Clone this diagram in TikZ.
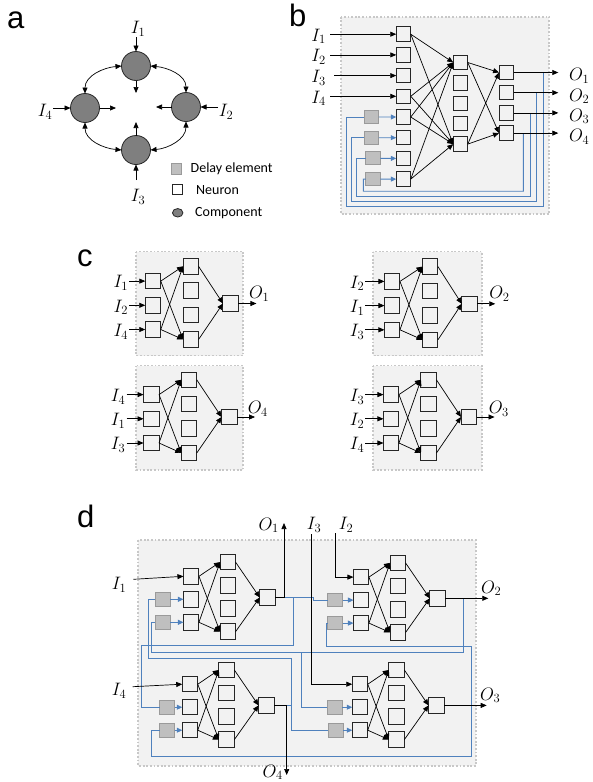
\RequirePackage{fix-cm}
\documentclass[tikz,border=0pt]{standalone}
\usepackage{fontspec}
\setsansfont{Liberation Sans}
\newfontfamily\legfont{Carlito}
\usetikzlibrary{arrows.meta,shapes.geometric}
\definecolor{regfill}{HTML}{F2F2F2}
\definecolor{regdraw}{HTML}{C8C8C8}
\definecolor{fb}{HTML}{4F81BD}
\definecolor{dlfill}{HTML}{BFBFBF}
\definecolor{dldraw}{HTML}{9A9A9A}
\definecolor{compfill}{HTML}{7F7F7F}
\tikzset{
 neuron/.style={draw=black!85, line width=1pt, minimum width=15.5pt, minimum height=15.5pt, inner sep=0pt, outer sep=0pt},
 bneuron/.style={neuron, minimum width=14.5pt, minimum height=14.5pt},
 delaybox/.style={draw=dldraw, fill=dlfill, line width=0.9pt, minimum width=15pt, minimum height=13.5pt, inner sep=0pt, outer sep=0pt},
 comp/.style={circle, draw=black!85, fill=compfill, line width=0.8pt, minimum size=29pt, inner sep=0pt, outer sep=0pt},
 region/.style={fill=regfill, draw=regdraw, line width=1.8pt, dash pattern=on 1.8pt off 1.8pt},
 arr/.style={-{Triangle[length=6pt,width=5pt]}, line width=0.7pt, black},
 dbl/.style={{Triangle[length=6pt,width=5pt]}-{Triangle[length=6pt,width=5pt]}, line width=0.7pt, black},
 fbl/.style={fb, line width=0.9pt},
 fbarr/.style={fbl, -{Triangle[length=5.5pt,width=5pt]}},
 lab/.style={font=\fontsize{18}{21}\selectfont, inner sep=0pt},
 panel/.style={font=\sffamily\fontsize{31}{34}\selectfont, inner sep=0pt, anchor=base west},
 legtext/.style={font=\legfont\fontsize{14}{16}\selectfont, inner sep=0pt, anchor=west},
}
% #1 prefix #2 x #3 cy #4 s #5 hs #6 dx1 #7 dx2
\newcommand{\mknet}[7]{%
 \node[neuron] (#1i1) at (#2,#3-#4) {};
 \node[neuron] (#1i2) at (#2,#3) {};
 \node[neuron] (#1i3) at (#2,#3+#4) {};
 \node[neuron] (#1h1) at (#2+#6,#3-2.4-1.5*#5) {};
 \node[neuron] (#1h2) at (#2+#6,#3-2.4-0.5*#5) {};
 \node[neuron] (#1h3) at (#2+#6,#3-2.4+0.5*#5) {};
 \node[neuron] (#1h4) at (#2+#6,#3-2.4+1.5*#5) {};
 \node[neuron] (#1o) at (#2+#7,#3-1.8) {};
 \draw[arr] (#1i1.east) -- (#1h1.west);
 \draw[arr] (#1i1.east) -- (#1h4.west);
 \draw[arr] (#1i3.east) -- (#1h1.west);
 \draw[arr] (#1i3.east) -- (#1h4.west);
 \draw[arr] (#1h1.east) -- (#1o.west);
 \draw[arr] (#1h4.east) -- (#1o.west);
}
\begin{document}
\begin{tikzpicture}[x=1pt,y=-1pt]
\useasboundingbox (0,0) rectangle (592,782);
% panel letters
\node[panel] (pa) at (7,28) {a};
\node[panel] (pb) at (289,26) {b};
\node[panel] (pc) at (77,266) {c};
\node[panel] (pd) at (77,527) {d};

% regions
\path[region] (341,16.7) rectangle (549.3,214);
\path[region] (136,251.5) rectangle (243.3,355.5);
\path[region] (373.3,251.5) rectangle (481.7,355.5);
\path[region] (136,365.5) rectangle (243.3,470);
\path[region] (373.3,365.5) rectangle (481.7,470);
\path[region] (138.3,540) rectangle (475.7,766);

% ---------------- panel a
\node[comp] (aT) at (136,66) {};
\node[comp] (aL) at (85,108) {};
\node[comp] (aR) at (186,107) {};
\node[comp] (aB) at (136,150) {};
\draw[dbl] (aT.west) to[out=185,in=90] (aL.north);
\draw[dbl] (aT.east) to[out=-5,in=90] (aR.north);
\draw[dbl] (aB.west) to[out=175,in=-90] (aL.south);
\draw[dbl] (aB.east) to[out=5,in=-90] (aR.south);
\coordinate (aTi) at (136,93);
\coordinate (aLi) at (116,108);
\coordinate (aRi) at (156,107);
\coordinate (aBi) at (136,122);
\draw[arr] (aT.south) -- (aTi);
\draw[arr] (aL.east) -- (aLi);
\draw[arr] (aR.west) -- (aRi);
\draw[arr] (aB.north) -- (aBi);
\coordinate (aI1s) at (136,37);
\coordinate (aI4s) at (53,108);
\coordinate (aI2s) at (218,107);
\coordinate (aI3s) at (136,180);
\draw[arr] (aI1s) -- (aT.north);
\draw[arr] (aI4s) -- (aL.west);
\draw[arr] (aI2s) -- (aR.east);
\draw[arr] (aI3s) -- (aB.south);
\node[lab] (aI1) at (138,29) {$I_1$};
\node[lab] (aI4) at (45,112) {$I_4$};
\node[lab] (aI2) at (226,112) {$I_2$};
\node[lab] (aI3) at (138,197) {$I_3$};
% legend
\node[delaybox, minimum width=10pt, minimum height=10.5pt] (lgD) at (176.7,168.7) {};
\node[neuron, minimum width=10pt, minimum height=10.5pt, fill=white] (lgN) at (177.3,189.5) {};
\node[ellipse, draw=black!85, fill=compfill, line width=0.8pt, minimum width=10.5pt, minimum height=8.5pt, inner sep=0pt] (lgC) at (177.7,212.8) {};
\node[legtext] (lgDt) at (190.5,168.5) {Delay element};
\node[legtext] (lgNt) at (196,190) {Neuron};
\node[legtext] (lgCt) at (195,213) {Component};

% ---------------- panel b
\foreach \k in {1,...,8} \node[bneuron] (bi\k) at (403.5,{34.2+(\k-1)*20.7}) {};
\foreach \k in {1,...,5} \node[bneuron] (bh\k) at (460.5,{62.5+(\k-1)*20.4}) {};
\foreach \k in {1,...,4} \node[bneuron] (bo\k) at (506.3,{72.5+(\k-1)*20.2}) {};
\node[delaybox, minimum width=14.5pt, minimum height=13pt] (bd1) at (371.5,117) {};
\node[delaybox, minimum width=14.5pt, minimum height=13pt] (bd2) at (371.5,137.7) {};
\node[delaybox, minimum width=14.5pt, minimum height=13pt] (bd3) at (373,158.4) {};
\node[delaybox, minimum width=14.5pt, minimum height=13pt] (bd4) at (373,179.1) {};
\draw[fbarr] (bd1.east) -- (bi5.west);
\draw[fbarr] (bd2.east) -- (bi6.west);
\draw[fbarr] (bd3.east) -- (bi7.west);
\draw[fbarr] (bd4.east) -- (bi8.west);
\foreach \k/\xv/\yb/\xl in {1/543/206.7/346, 2/536.7/201.7/351, 3/530.3/196.7/356.7, 4/523.3/191.2/363.3} {
 \draw[fbl] (\xv,{72.5+(\k-1)*20.2}) -- (\xv,\yb) -- (\xl,\yb) -- (\xl,{117+(\k-1)*20.7}) -- (bd\k.west);
}
\foreach \a in {1,4,5,8} \foreach \b in {1,5} \draw[arr] (bi\a.east) -- (bh\b.west);
\foreach \a in {1,5} \foreach \b in {1,4} \draw[arr] (bh\a.east) -- (bo\b.west);
\foreach \k in {1,...,4} {
 \coordinate (bOe\k) at (558.3,{72.5+(\k-1)*20.2});
 \draw[arr] (bo\k.east) -- (bOe\k);
 \node[lab,anchor=west] (bO\k) at (569,{76+(\k-1)*20.2}) {$O_\k$};
}
\foreach \k/\xs in {1/330,2/330,3/334,4/330} {
 \coordinate (bIs\k) at (\xs,{34.2+(\k-1)*20.7});
 \draw[arr] (bIs\k) -- (bi\k.west);
 \node[lab,anchor=east] (bI\k) at (326,{36.2+(\k-1)*20.7}) {$I_\k$};
}

% ---------------- panel c
\mknet{ca}{153}{305.3}{24.2}{24.4}{37.8}{77.7}
\mknet{cb}{392.2}{305.6}{24.2}{24.4}{38}{77.3}
\mknet{cc}{151.3}{418.8}{24.2}{24.4}{37.7}{78}
\mknet{cd}{391.2}{418.8}{24.2}{24.4}{37.5}{77.6}
\foreach \n/\t/\d in {cai1/1/16, cai2/2/16, cai3/4/16, cbi1/2/19, cbi2/1/19, cbi3/3/19, cci1/4/17, cci2/1/17, cci3/3/17, cdi1/3/18, cdi2/2/18, cdi3/4/18} {
 \draw[arr] ([xshift=-\d pt]\n.west) -- (\n.west);
 \node[lab, anchor=east] (\n-lab) at ([xshift=-\d pt-1pt, yshift=-2pt]\n.west) {$I_\t$};
}
\foreach \n/\t/\dx/\dy in {cao/1/10.5/5, cbo/2/12/5, cco/4/10.5/3.5, cdo/3/12/3.5} {
 \draw[arr] (\n.east) -- ([xshift=18pt]\n.east);
 \node[lab, anchor=base west] (\n-lab) at ([xshift=\dx pt, yshift=\dy pt]\n.east) {$O_\t$};
}

% ---------------- panel d
\mknet{da}{191.2}{599.3}{23}{23.2}{36.6}{76.3}
\mknet{db}{361.2}{600.1}{23}{23.2}{36.6}{76.3}
\mknet{dc}{190}{707.2}{23}{23.2}{36.6}{76.3}
\mknet{dd}{360}{707.2}{23}{23.2}{36.6}{76.3}
\node[delaybox] (dad2) at (162.8,599.3) {};
\node[delaybox] (dad3) at (162.8,622.3) {};
\node[delaybox] (dbd2) at (335.2,600.1) {};
\node[delaybox] (dbd3) at (335.2,623.1) {};
\node[delaybox] (dcd2) at (167.2,707.2) {};
\node[delaybox] (dcd3) at (167.2,730.2) {};
\node[delaybox] (ddd2) at (334.5,707.2) {};
\node[delaybox] (ddd3) at (335.5,730.2) {};
\foreach \p in {da,db,dc,dd} {
 \draw[fbarr] (\p d2.east) -- (\p i2.west);
 \draw[fbarr] (\p d3.east) -- (\p i3.west);
}
% output corners
\coordinate (dO1c) at (284,597.5);
\coordinate (dO1t) at (284,523);
\coordinate (dO2t) at (488.3,598.3);
\coordinate (dO3t) at (486.7,705.4);
\coordinate (dO4c) at (286.7,705.4);
\coordinate (dO4t) at (286.7,775);
% feedback (blue)
\draw[fbl] (dO1c) -- (313,597.5) -- (313,600.1) -- (dbd2.west);
\draw[fbl] (293.3,597.5) -- (293.3,645) -- (141.7,645) -- (141.7,707.2) -- (dcd2.west);
\draw[fbl] (463.3,598.3) -- (463.3,652.7) -- (151.7,652.7) -- (151.7,622.3) -- (dad3.west);
\draw[fbl] (301.7,652.7) -- (301.7,707.2) -- (ddd2.west);
\draw[fbl] (471.7,705.4) -- (471.7,646.7) -- (326,646.7) -- (326,623.1) -- (dbd3.west);
\draw[fbl] (471.7,705.4) -- (471.7,756.7) -- (151.7,756.7) -- (151.7,730.2) -- (dcd3.west);
\draw[fbl] (dO4c) -- (291.7,705.4);
\draw[fbl] (291.7,658.3) -- (291.7,730.2) -- (ddd3.west);
\draw[fbl] (291.7,658.3) -- (148.3,658.3) -- (148.3,599.3) -- (dad2.west);
% outputs (black)
\draw[arr] (dao.east) -- (dO1c) -- (dO1t);
\draw[arr] (dbo.east) -- (dO2t);
\draw[arr] (ddo.east) -- (dO3t);
\draw[arr] (dco.east) -- (dO4c) -- (dO4t);
\node[lab, anchor=base east] (dO1) at (279,530) {$O_1$};
\node[lab, anchor=base west] (dO2) at (481,593) {$O_2$};
\node[lab, anchor=base west] (dO3) at (480,700) {$O_3$};
\node[lab, anchor=base east] (dO4) at (283,777) {$O_4$};
% inputs
\node[lab] (dI1) at (119,585) {$I_1$};
\node[lab] (dI4) at (119,691) {$I_4$};
\node[lab] (dI3) at (314,525) {$I_3$};
\node[lab] (dI2) at (346,525) {$I_2$};
\coordinate (dI1s) at (133.3,579.3);
\coordinate (dI4s) at (132.7,686.7);
\coordinate (dI3s) at (311.7,534);
\coordinate (dI3c) at (311.7,684.2);
\coordinate (dI2s) at (335.7,533);
\coordinate (dI2c) at (335.7,577.1);
\draw[arr] (dI1s) -- (dai1.west);
\draw[arr] (dI4s) -- (dci1.west);
\draw[arr] (dI3s) -- (dI3c) -- (ddi1.west);
\draw[arr] (dI2s) -- (dI2c) -- (dbi1.west);
\end{tikzpicture}
\end{document}
